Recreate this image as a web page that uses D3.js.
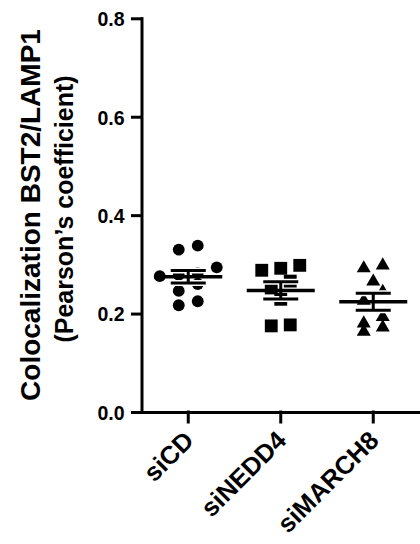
<!DOCTYPE html>
<html>
<head>
<meta charset="utf-8">
<script src="https://cdn.jsdelivr.net/npm/d3@7"></script>
<style>
  body { margin: 0; background: #fff; }
  svg text { font-family: "Liberation Sans", Arial, sans-serif; font-weight: bold; }
</style>
</head>
<body>
<svg id="svg1" width="420" height="544"></svg>
<script>
// groupes et valeurs (coefficient de Pearson)
var groups = ["siCD", "siNEDD4", "siMARCH8"];
var siCD = [0.338, 0.330, 0.294, 0.282, 0.279, 0.276, 0.260, 0.246, 0.225, 0.217];
var siNEDD4 = [0.298, 0.292, 0.288, 0.266, 0.252, 0.229, 0.177, 0.175];
var siMARCH8 = [0.296, 0.290, 0.263, 0.242, 0.224, 0.191, 0.178, 0.170, 0.161];
var yTicks = [0.0, 0.2, 0.4, 0.6, 0.8];
var yTitle = ["Colocalization BST2/LAMP1", "(Pearson\u2019s coefficient)"];

var series = [siCD, siNEDD4, siMARCH8];
var shapes = [d3.symbolCircle, d3.symbolSquare, d3.symbolTriangle];
var shapeSize = [110, 165, 85];

var svg = d3.select("#svg1");

var xScale = d3.scaleBand().domain(groups).range([142, 419.5]);
var yScale = d3.scaleLinear().domain([0, 0.8]).range([412, 18.3]);

// axes
var yAxis = g => g
    .attr("transform", "translate(141.5, 0)")
    .call(d3.axisLeft(yScale).tickValues(yTicks).tickFormat(d3.format(".1f"))
        .tickSize(9).tickSizeOuter(0).tickPadding(8));

var xAxis = g => g
    .attr("transform", "translate(0, 412)")
    .call(d3.axisBottom(xScale).tickSize(10).tickSizeOuter(0));

var gy = svg.append("g").call(yAxis);
var gx = svg.append("g").call(xAxis);

[gx, gy].forEach(function(g) {
    g.selectAll("path, line").attr("stroke", "#000").attr("stroke-width", 3)
        .attr("stroke-linecap", "square");
    g.selectAll("text").attr("fill", "#000");
});
gy.selectAll("text").style("font-size", "19.5px").attr("dy", "0.38em");
gx.selectAll("text")
    .style("font-size", "25.5px")
    .attr("text-anchor", "end")
    .attr("x", 0).attr("y", 0).attr("dy", 0)
    .attr("transform", "translate(7, 30) rotate(-45)");

// titre de l'axe y sur deux lignes
svg.append("text")
    .attr("transform", "translate(40, 215) rotate(-90)")
    .attr("text-anchor", "middle")
    .style("font-size", "28px")
    .text(yTitle[0]);
svg.append("text")
    .attr("transform", "translate(73, 209) rotate(-90)")
    .attr("text-anchor", "middle")
    .style("font-size", "25px")
    .text(yTitle[1]);

// placement horizontal des points : rangées de valeurs proches, étalées autour du centre
function layout(values, cx) {
    var sorted = values.map(function(v, i) { return {v: v, i: i}; })
        .sort(function(a, b) { return b.v - a.v; });
    var rows = [], current = null;
    sorted.forEach(function(p) {
        var py = yScale(p.v);
        if (current && py - current.y0 <= 9) {
            current.pts.push(p);
        } else {
            current = {y0: py, pts: [p]};
            rows.push(current);
        }
    });
    var out = [];
    rows.forEach(function(r) {
        r.pts.sort(function(a, b) { return a.v - b.v; });
        var n = r.pts.length;
        r.pts.forEach(function(p, k) {
            out.push({v: p.v, x: cx + (k - (n - 1) / 2) * 19, y: yScale(p.v)});
        });
    });
    return out;
}

series.forEach(function(vals, gi) {
    var cx = xScale(groups[gi]) + xScale.bandwidth() / 2;
    var pts = layout(vals, cx);
    var sym = d3.symbol().type(shapes[gi]).size(shapeSize[gi]);

    svg.append("g").selectAll("path")
        .data(pts)
        .enter()
        .append("path")
        .attr("d", sym)
        .attr("fill", "#000")
        .attr("transform", function(d) {
            var dy = gi === 2 ? -1 : 0;
            return "translate(" + d.x + "," + (d.y + dy) + ")";
        });

    // moyenne ± SEM, avec un liseré blanc sous les barres de l'erreur
    var m = d3.mean(vals);
    var sem = d3.deviation(vals) / Math.sqrt(vals.length);
    var g = svg.append("g");
    var capW = 17.5, meanW = 34;
    [m - sem, m + sem].forEach(function(v) {
        g.append("line")
            .attr("x1", cx - capW).attr("x2", cx + capW)
            .attr("y1", yScale(v)).attr("y2", yScale(v))
            .attr("stroke", "#fff").attr("stroke-width", 6);
    });
    g.append("line")
        .attr("x1", cx).attr("x2", cx)
        .attr("y1", yScale(m - sem)).attr("y2", yScale(m + sem))
        .attr("stroke", "#000").attr("stroke-width", 3);
    g.append("line")
        .attr("x1", cx - meanW).attr("x2", cx + meanW)
        .attr("y1", yScale(m)).attr("y2", yScale(m))
        .attr("stroke", "#000").attr("stroke-width", 3.5);
    [m - sem, m + sem].forEach(function(v) {
        g.append("line")
            .attr("x1", cx - capW).attr("x2", cx + capW)
            .attr("y1", yScale(v)).attr("y2", yScale(v))
            .attr("stroke", "#000").attr("stroke-width", 3);
    });
});
</script>
</body>
</html>
